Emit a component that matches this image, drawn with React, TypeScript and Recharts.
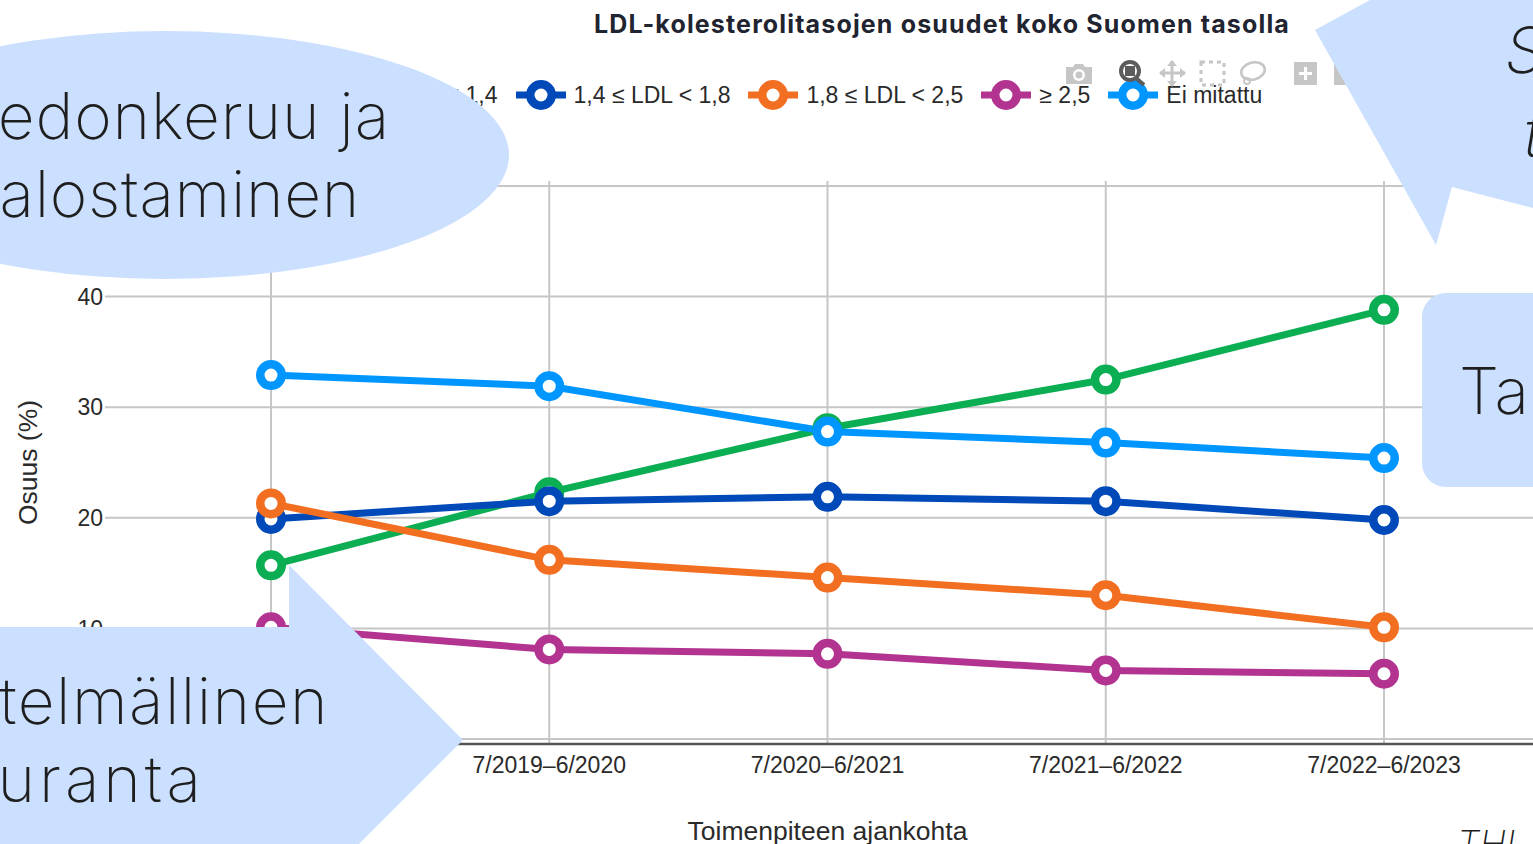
import { CartesianGrid, Legend, Line, LineChart, XAxis, YAxis } from "recharts";

const periods = ["7/2018–6/2019", "7/2019–6/2020", "7/2020–6/2021", "7/2021–6/2022", "7/2022–6/2023"];
const under14 = [15.7, 22.3, 28.1, 32.5, 38.8];
const from14to18 = [19.9, 21.5, 21.9, 21.5, 19.8];
const from18to25 = [21.3, 16.2, 14.6, 13.0, 10.1];
const over25 = [10.1, 8.1, 7.7, 6.2, 5.9];
const notMeasured = [32.9, 31.9, 27.8, 26.8, 25.4];
const yTicks = [0, 10, 20, 30, 40, 50];
// these tick labels sit under the slide's speech bubbles
const hiddenYLabels = [0, 50];
const hiddenXLabels = ["7/2018–6/2019"];

const data = periods.map((period, i) => ({
  period,
  under14: under14[i],
  from14to18: from14to18[i],
  from18to25: from18to25[i],
  over25: over25[i],
  notMeasured: notMeasured[i],
}));

const SERIES = [
  { key: "under14", name: "LDL < 1,4", color: "#0bae52" },
  { key: "from14to18", name: "1,4 ≤ LDL < 1,8", color: "#0049b9" },
  { key: "from18to25", name: "1,8 ≤ LDL < 2,5", color: "#f26f21" },
  { key: "over25", name: "≥ 2,5", color: "#b23390" },
  { key: "notMeasured", name: "Ei mitattu", color: "#0096ff" },
];

const SANS = "'Liberation Sans', Arial, sans-serif";
const SLIDE = "Inter, 'Open Sans', sans-serif";
const BUBBLE = "#cbdffe";
const TEXT = "#2a2a2a";

function LegendRow({ payload }: any) {
  return (
    <div style={{ display: "flex", gap: 18, whiteSpace: "nowrap" }}>
      {(payload ?? []).map((item: any) => (
        <div key={item.value} style={{ display: "flex", alignItems: "center", gap: 8 }}>
          <svg width={50} height={32}>
            <line x1={0} x2={50} y1={16} y2={16} stroke={item.color} strokeWidth={7} />
            <circle cx={25} cy={16} r={10.75} fill="#fff" stroke={item.color} strokeWidth={8.5} />
          </svg>
          <span style={{ fontFamily: SANS, fontSize: 23, color: TEXT }}>{item.value}</span>
        </div>
      ))}
    </div>
  );
}

function Modebar() {
  const c = "#c6c6c6";
  return (
    <g>
      {/* camera */}
      <path d="M1066 67h7l2-3h8l2 3h7v17h-26z" fill={c} />
      <circle cx={1079} cy={75} r={6} fill="#fff" />
      <circle cx={1079} cy={75} r={3.5} fill={c} />
      {/* zoom */}
      <circle cx={1130} cy={71} r={9} fill="none" stroke="#5c5c5c" strokeWidth={4} />
      <rect x={1125} y={66} width={10} height={10} fill="#5c5c5c" />
      <line x1={1136} y1={78} x2={1144} y2={85} stroke="#5c5c5c" strokeWidth={4} />
      {/* pan */}
      <path d="M1172 61v25M1160 73h25" stroke={c} strokeWidth={3} />
      <path d="M1172 60l-5 6h10zM1172 87l-5-6h10zM1159 73l6-5v10zM1186 73l-6-5v10z" fill={c} />
      {/* box select */}
      <rect x={1201} y={62} width={23} height={23} fill="none" stroke={c} strokeWidth={3} strokeDasharray="4 4" />
      {/* lasso */}
      <ellipse cx={1253} cy={71} rx={12} ry={8.5} fill="none" stroke={c} strokeWidth={2.5} transform="rotate(-15 1253 71)" />
      <circle cx={1247} cy={81} r={3} fill="none" stroke={c} strokeWidth={2} />
      {/* zoom in, zoom out */}
      <rect x={1294} y={62} width={23} height={23} fill={c} />
      <path d="M1305.5 67v13M1299 73.5h13" stroke="#fff" strokeWidth={3} />
      <rect x={1334} y={62} width={23} height={23} fill={c} />
    </g>
  );
}

function Overlay() {
  return (
    <svg width={1533} height={844} style={{ position: "absolute", left: 0, top: 0 }}>
      <text x={942} y={33} textAnchor="middle" fontFamily={SLIDE} fontWeight={700} fontSize={25} letterSpacing={1.15} fill="#1f2430">
        LDL-kolesterolitasojen osuudet koko Suomen tasolla
      </text>
      <Modebar />
      <ellipse cx={165} cy={155} rx={344} ry={124} fill={BUBBLE} />
      <polygon points="1315,30 1370,0 1533,0 1533,208 1452,187 1436,245" fill={BUBBLE} />
      <rect x={1422} y={293} width={160} height={194} rx={24} fill={BUBBLE} />
      <polygon points="0,627 289,627 289,565 463,740 359,844 0,844" fill={BUBBLE} />
      <g fontFamily={SLIDE} fontWeight={250} fontSize={64} fill="#1e1e1e" textAnchor="end">
        <text x={390} y={139} letterSpacing={0.9}>Tiedonkeruu ja</text>
        <text x={360} y={217} letterSpacing={0.7}>jalostaminen</text>
        <text x={329} y={724} letterSpacing={1.5}>Suunnitelmällinen</text>
        <text x={205} y={802} letterSpacing={4}>seuranta</text>
      </g>
      <g fontFamily={SLIDE} fontWeight={250} fontSize={64} fill="#1e1e1e">
        <text x={1459} y={414}>Ta</text>
        <text x={1505} y={73} fontStyle="italic">S</text>
        <text x={1524} y={157} fontStyle="italic">t</text>
      </g>
      <text x={1457} y={857} fontFamily={SLIDE} fontWeight={250} fontStyle="italic" fontSize={36} fill="#1e1e1e">
        THL
      </text>
    </svg>
  );
}

export default function App() {
  return (
    <div style={{ position: "fixed", left: 0, top: 0, width: 1533, height: 844, overflow: "hidden", background: "#fff" }}>
      <LineChart width={1600} height={844} data={data} margin={{ top: 181, right: 50, bottom: 0, left: 0 }}>
        <CartesianGrid stroke="#c6c6c6" strokeWidth={2} syncWithTicks />
        <XAxis
          dataKey="period"
          scale="point"
          padding={{ left: 166, right: 166 }}
          height={100}
          interval={0}
          axisLine={{ stroke: "#555", strokeWidth: 2.5 }}
          tickSize={0}
          tickMargin={13}
          tick={{ fill: TEXT, fontSize: 23, fontFamily: SANS }}
          tickFormatter={(v: string) => (hiddenXLabels.includes(v) ? "" : v)}
          label={{
            value: "Toimenpiteen ajankohta",
            position: "insideBottom",
            offset: 4,
            fill: TEXT,
            fontSize: 26.5,
            fontFamily: SANS,
          }}
        />
        <YAxis
          domain={[-0.45, 50.45]}
          ticks={yTicks}
          width={105}
          axisLine={false}
          tickSize={0}
          tickMargin={2}
          tick={{ fill: TEXT, fontSize: 23, fontFamily: SANS }}
          tickFormatter={(v: number) => (hiddenYLabels.includes(v) ? "" : String(v))}
          label={{
            value: "Osuus (%)",
            angle: -90,
            position: "insideLeft",
            offset: 28,
            style: { textAnchor: "middle" },
            fill: TEXT,
            fontSize: 26.5,
            fontFamily: SANS,
          }}
        />
        <Legend
          content={<LegendRow />}
          verticalAlign="middle"
          align="center"
          itemSorter={null}
          wrapperStyle={{ position: "absolute", left: 340, top: 79, width: "auto" }}
        />
        {SERIES.map((s) => (
          <Line
            key={s.key}
            dataKey={s.key}
            name={s.name}
            stroke={s.color}
            strokeWidth={7}
            dot={{ r: 10.75, fill: "#fff", stroke: s.color, strokeWidth: 8.5 }}
            isAnimationActive={false}
          />
        ))}
      </LineChart>
      <Overlay />
    </div>
  );
}
